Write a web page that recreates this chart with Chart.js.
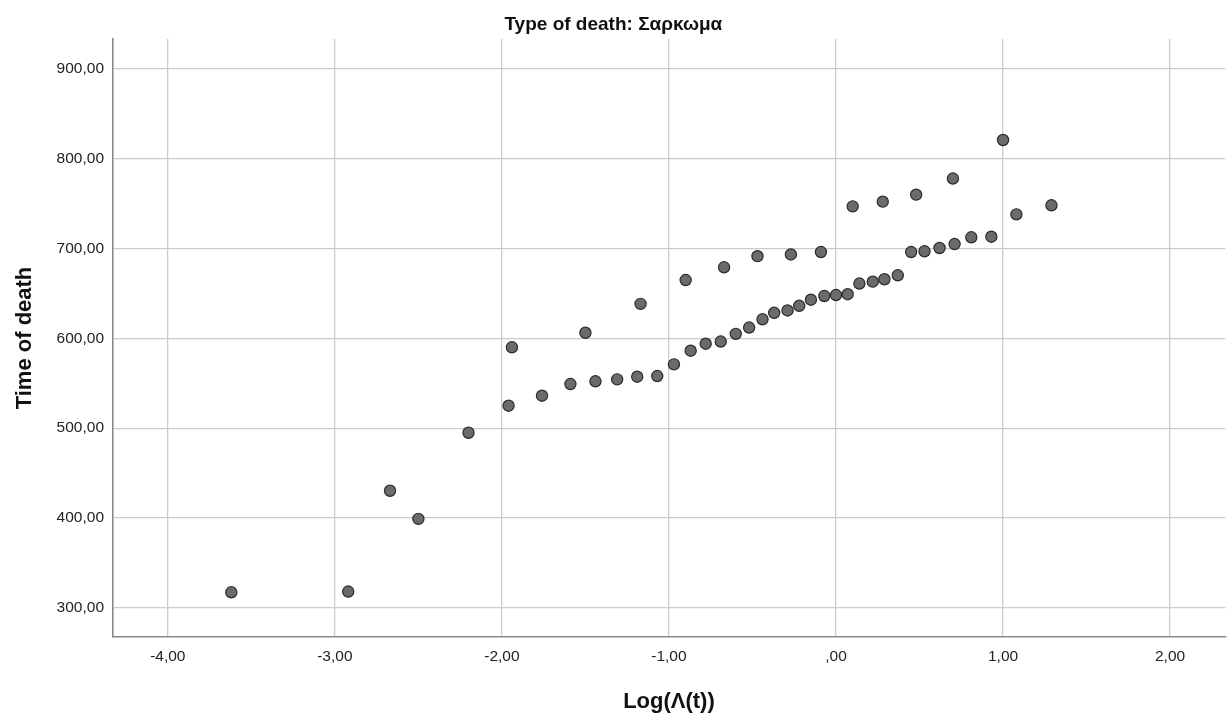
<!DOCTYPE html>
<html lang="pt-br">
<head>
<meta charset="UTF-8">
<title>Type of death: Σαρκωμα</title>
<script src="https://cdn.jsdelivr.net/npm/chart.js"></script>
<style>
    body { margin: 0; background: #ffffff; }
</style>
</head>
<body>
<canvas id="grafico1" width="1232" height="715"></canvas>
<script>

// Gráfico --> Log(Λ(t)) x Time of death

const logLambda = [-3.62,-2.92,-2.67,-2.50,-2.20,-1.96,-1.94,-1.76,-1.59,-1.50,-1.44,-1.31,-1.19,-1.17,-1.07,
    -0.97,-0.90,-0.87,-0.78,-0.69,-0.67,-0.60,-0.52,-0.47,-0.44,-0.37,-0.29,-0.27,-0.22,-0.15,-0.09,-0.07,
    0.00,0.07,0.10,0.14,0.22,0.28,0.29,0.37,0.45,0.48,0.53,0.62,0.70,0.71,0.81,0.93,1.00,1.08,1.29]

const tempoMorte = [317.2,318.0,430.3,399.0,494.9,525.0,590.1,536.2,549.2,606.3,552.2,554.4,557.3,638.5,558.1,
    571.1,665.0,586.3,594.1,596.5,679.2,605.1,612.1,691.6,621.3,628.5,631.1,693.5,636.3,643.1,696.2,647.2,
    648.3,649.2,747.1,661.1,663.2,752.3,665.9,670.3,696.2,760.1,697.0,700.7,778.1,705.1,712.6,713.3,821.0,738.2,748.3]

const ticksX = [-4,-3,-2,-1,0,1,2]
const ticksY = [300,400,500,600,700,800,900]

const pontos = logLambda.map((x, i) => ({x: x, y: tempoMorte[i]}))

// 900,00 / -1,00 / ,00
function formatar(v) {
    let s = Math.abs(v).toFixed(2).replace('.', ',')
    if (s.startsWith('0,')) s = s.slice(1)
    return (v < 0 ? '-' : '') + s
}

Chart.defaults.font.family = 'Arial, "Liberation Sans", sans-serif'
Chart.defaults.color = '#222222'

const grafico1 = document.getElementById('grafico1')

new Chart(grafico1, {
    type: 'scatter',
    data: {
        datasets: [{
            data: pontos,
            backgroundColor: '#6b6b6b',
            borderColor: '#2b2b2b',
            borderWidth: 1.2,
            pointRadius: 5.6,
            pointHoverRadius: 5.6
        }]
    },
    options: {
        responsive: false,
        animation: false,
        layout: {
            padding: {left: 0, right: 5.3, top: 0, bottom: 0}
        },
        plugins: {
            legend: {display: false},
            tooltip: {enabled: false},
            title: {
                display: true,
                text: 'Type of death: Σαρκωμα',
                color: '#111111',
                font: {size: 19, weight: 'bold'},
                padding: {top: 13, bottom: 3.2}
            }
        },
        scales: {
            x: {
                type: 'linear',
                min: -4.33,
                max: 2.33,
                afterBuildTicks: (scale) => { scale.ticks = ticksX.map(v => ({value: v})) },
                afterFit: (scale) => { scale.height = 78 },
                ticks: {
                    callback: (v) => formatar(v),
                    font: {size: 15.5},
                    padding: 10,
                    maxRotation: 0
                },
                grid: {color: '#cccccc', lineWidth: 1.3, drawTicks: false},
                border: {color: '#8a8a8a', width: 1.6},
                title: {
                    display: true,
                    text: 'Log(Λ(t))',
                    color: '#111111',
                    font: {size: 22, weight: 'bold'},
                    padding: {top: 0, bottom: 0}
                }
            },
            y: {
                type: 'linear',
                min: 267.4,
                max: 933.5,
                afterBuildTicks: (scale) => { scale.ticks = ticksY.map(v => ({value: v})) },
                afterFit: (scale) => { scale.width = 112.7 },
                ticks: {
                    callback: (v) => formatar(v),
                    font: {size: 15.5},
                    padding: 8.7
                },
                grid: {color: '#cccccc', lineWidth: 1.3, drawTicks: false},
                border: {color: '#8a8a8a', width: 1.6},
                title: {
                    display: true,
                    text: 'Time of death',
                    color: '#111111',
                    font: {size: 22, weight: 'bold'},
                    padding: {top: 12, bottom: 0}
                }
            }
        }
    }
})

</script>
</body>
</html>
